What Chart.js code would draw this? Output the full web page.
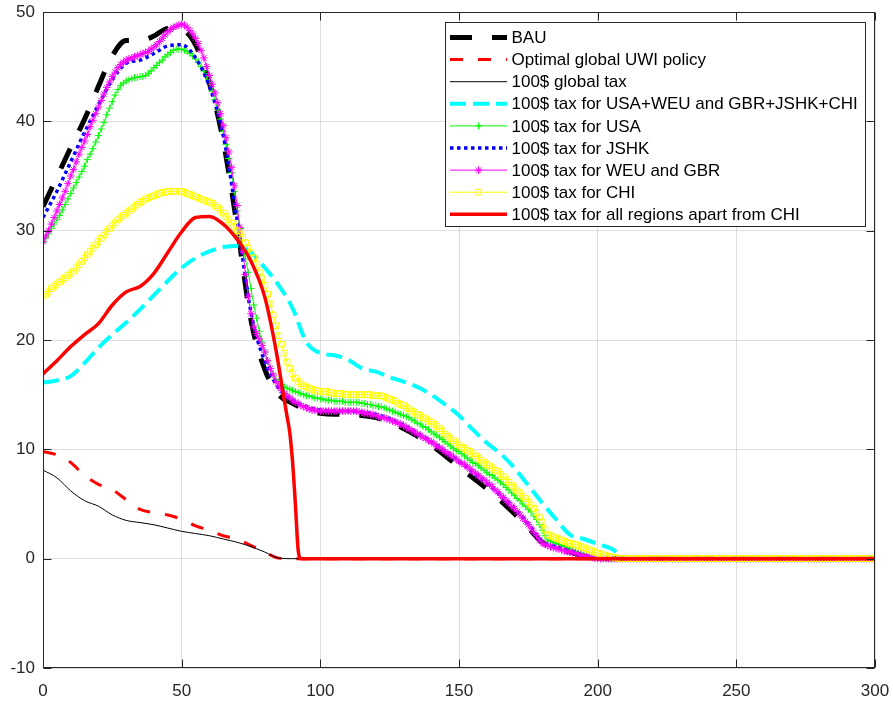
<!DOCTYPE html>
<html>
<head>
<meta charset="utf-8">
<title>Tax scenarios</title>
<script src="https://cdn.jsdelivr.net/npm/chart.js@4.4.1/dist/chart.umd.min.js"></script>
<style>
  html, body { margin: 0; padding: 0; background: #fff; overflow: hidden; }
  canvas { display: block; }
</style>
</head>
<body>
<canvas id="taxChart" width="893" height="702"></canvas>
<script>
// sample grids (years)
function range(start, stop, step) {
    let out = [];
    for (let v = start; v <= stop; v += step) out.push(v);
    return out;
}
const xCoarse = range(0, 300, 5);
const xFine = range(0, 300, 1);

// series on the 5-step grid
const bau = [
    32.2, 34.9, 37.6, 40.2, 43.2, 46.0, 47.4, 47.4, 47.8, 48.5,
    48.4, 47.0, 43.5, 38.2, 30.4, 21.8, 17.3, 15.0, 14.2, 13.6,
    13.3, 13.2, 13.2, 13.1, 12.9, 12.5, 11.9, 11.2, 10.4, 9.4,
    8.4, 7.4, 6.4, 5.3, 4.1, 2.8, 1.5, 1.0, 0.6, 0.25,
    0, 0, 0, 0, 0, 0, 0, 0, 0, 0,
    0, 0, 0, 0, 0, 0, 0, 0, 0, 0,
    0
];
const optimalUwi = [
    9.8, 9.5, 8.8, 7.6, 6.8, 6.3, 5.4, 4.5, 4.2, 4.0,
    3.6, 3.0, 2.6, 2.1, 1.8, 1.2, 0.6, 0.05, 0, 0,
    0, 0, 0, 0, 0, 0, 0, 0, 0, 0,
    0, 0, 0, 0, 0, 0, 0, 0, 0, 0,
    0, 0, 0, 0, 0, 0, 0, 0, 0, 0,
    0, 0, 0, 0, 0, 0, 0, 0, 0, 0,
    0
];
const globalTax = [
    8.1, 7.4, 6.2, 5.3, 4.8, 4.0, 3.5, 3.3, 3.1, 2.8,
    2.5, 2.3, 2.1, 1.8, 1.5, 1.1, 0.6, 0.05, 0, 0,
    0, 0, 0, 0, 0, 0, 0, 0, 0, 0,
    0, 0, 0, 0, 0, 0, 0, 0, 0, 0,
    0, 0, 0, 0, 0, 0, 0, 0, 0, 0,
    0, 0, 0, 0, 0, 0, 0, 0, 0, 0,
    0
];
const taxBloc = [
    16.1, 16.3, 16.7, 17.9, 19.3, 20.5, 21.6, 22.8, 24.1, 25.4,
    26.6, 27.5, 28.1, 28.5, 28.6, 28.0, 26.6, 25.0, 22.9, 19.8,
    18.8, 18.6, 18.2, 17.4, 17.1, 16.6, 16.2, 15.7, 15.0, 14.1,
    13.1, 11.8, 10.6, 9.6, 8.3, 6.7, 5.1, 3.6, 2.2, 1.8,
    1.35, 0.9, 0.1, 0, 0, 0, 0, 0, 0, 0,
    0, 0, 0, 0, 0, 0, 0, 0, 0, 0,
    0
];
const taxJshk = [
    31.2, 33.6, 36.3, 39.0, 41.5, 43.8, 45.3, 45.6, 46.2, 46.9,
    47.0, 45.8, 43.2, 38.7, 31.0, 22.5, 18.0, 15.6, 14.5, 13.9,
    13.6, 13.5, 13.5, 13.4, 13.2, 12.8, 12.2, 11.5, 10.7, 9.8,
    8.9, 7.9, 6.9, 5.8, 4.6, 3.2, 1.6, 1.1, 0.7, 0.3,
    0, 0, 0, 0, 0, 0, 0, 0, 0, 0,
    0, 0, 0, 0, 0, 0, 0, 0, 0, 0,
    0
];

// marker series, one value per year
const taxUsa = [
    28.9, 29.3, 29.7, 30.2, 30.6, 31.0, 31.4, 31.9, 32.4, 32.9,
    33.4, 33.9, 34.4, 34.9, 35.4, 35.9, 36.5, 37.0, 37.5, 38.1,
    38.7, 39.3, 39.9, 40.6, 41.2, 41.8, 42.4, 42.9, 43.3, 43.5,
    43.7, 43.8, 43.9, 44.0, 44.0, 44.1, 44.1, 44.2, 44.4, 44.6,
    44.9, 45.1, 45.4, 45.6, 45.9, 46.1, 46.3, 46.5, 46.6, 46.6,
    46.6, 46.5, 46.4, 46.2, 46.0, 45.7, 45.4, 45.0, 44.6, 44.1,
    43.6, 42.8, 42.0, 41.1, 40.2, 39.1, 37.9, 36.6, 35.3, 33.6,
    31.8, 30.2, 28.6, 27.4, 26.2, 24.7, 23.2, 22.0, 20.8, 19.8,
    18.9, 18.1, 17.4, 16.9, 16.4, 16.1, 15.9, 15.7, 15.6, 15.5,
    15.4, 15.3, 15.2, 15.1, 15.0, 14.9, 14.9, 14.8, 14.7, 14.7,
    14.6, 14.6, 14.5, 14.5, 14.5, 14.4, 14.4, 14.4, 14.4, 14.3,
    14.3, 14.3, 14.3, 14.3, 14.3, 14.2, 14.2, 14.1, 14.1, 14.0,
    14.0, 13.9, 13.9, 13.8, 13.7, 13.6, 13.5, 13.4, 13.3, 13.2,
    13.1, 13.0, 12.9, 12.7, 12.6, 12.4, 12.3, 12.1, 12.0, 11.8,
    11.6, 11.4, 11.3, 11.1, 10.9, 10.7, 10.5, 10.3, 10.1, 9.9,
    9.8, 9.6, 9.4, 9.2, 9.0, 8.8, 8.7, 8.5, 8.3, 8.1,
    7.9, 7.7, 7.6, 7.4, 7.2, 7.0, 6.8, 6.5, 6.3, 6.0,
    5.8, 5.5, 5.3, 5.0, 4.8, 4.5, 4.3, 3.9, 3.6, 3.1,
    2.6, 2.1, 1.7, 1.6, 1.5, 1.4, 1.3, 1.2, 1.1, 1.0,
    0.9, 0.8, 0.7, 0.6, 0.5, 0.4, 0.3, 0.2, 0.15, 0.1,
    0.05, 0, 0, 0, 0, 0, 0, 0, 0, 0,
    0, 0, 0, 0, 0, 0, 0, 0, 0, 0,
    0, 0, 0, 0, 0, 0, 0, 0, 0, 0,
    0, 0, 0, 0, 0, 0, 0, 0, 0, 0,
    0, 0, 0, 0, 0, 0, 0, 0, 0, 0,
    0, 0, 0, 0, 0, 0, 0, 0, 0, 0,
    0, 0, 0, 0, 0, 0, 0, 0, 0, 0,
    0, 0, 0, 0, 0, 0, 0, 0, 0, 0,
    0, 0, 0, 0, 0, 0, 0, 0, 0, 0,
    0, 0, 0, 0, 0, 0, 0, 0, 0, 0,
    0
];
const taxWeuGbr = [
    29.0, 29.5, 30.0, 30.6, 31.2, 31.8, 32.4, 33.0, 33.6, 34.3,
    35.0, 35.6, 36.3, 37.0, 37.6, 38.2, 38.8, 39.5, 40.1, 40.7,
    41.3, 41.9, 42.5, 43.1, 43.6, 44.1, 44.5, 44.9, 45.2, 45.4,
    45.6, 45.7, 45.8, 45.9, 46.0, 46.1, 46.2, 46.3, 46.4, 46.6,
    46.8, 47.0, 47.3, 47.6, 47.9, 48.2, 48.4, 48.6, 48.7, 48.8,
    48.9, 48.8, 48.6, 48.3, 48.0, 47.6, 47.1, 46.5, 45.8, 45.0,
    44.2, 43.4, 42.6, 41.7, 40.7, 39.6, 38.5, 37.2, 35.8, 34.1,
    32.3, 30.3, 28.2, 26.0, 24.0, 22.4, 21.2, 20.6, 20.1, 19.5,
    18.9, 18.1, 17.4, 16.8, 16.2, 15.8, 15.4, 15.1, 14.9, 14.7,
    14.5, 14.3, 14.2, 14.0, 13.9, 13.8, 13.7, 13.6, 13.6, 13.5,
    13.5, 13.5, 13.5, 13.5, 13.5, 13.5, 13.5, 13.5, 13.5, 13.5,
    13.5, 13.5, 13.5, 13.5, 13.4, 13.4, 13.3, 13.3, 13.2, 13.2,
    13.1, 13.0, 12.9, 12.9, 12.8, 12.7, 12.6, 12.5, 12.4, 12.3,
    12.2, 12.0, 11.9, 11.7, 11.6, 11.4, 11.3, 11.1, 11.0, 10.8,
    10.7, 10.5, 10.3, 10.2, 10.0, 9.8, 9.6, 9.5, 9.3, 9.1,
    8.9, 8.7, 8.6, 8.4, 8.2, 8.0, 7.8, 7.6, 7.4, 7.2,
    7.0, 6.8, 6.6, 6.3, 6.1, 5.8, 5.6, 5.3, 5.1, 4.8,
    4.6, 4.3, 4.0, 3.7, 3.4, 3.1, 2.8, 2.4, 2.1, 1.7,
    1.4, 1.3, 1.2, 1.1, 1.0, 0.95, 0.9, 0.8, 0.7, 0.65,
    0.6, 0.55, 0.5, 0.4, 0.3, 0.25, 0.2, 0.15, 0.1, 0.05,
    0, 0, 0, 0, 0, 0, 0, 0, 0, 0,
    0, 0, 0, 0, 0, 0, 0, 0, 0, 0,
    0, 0, 0, 0, 0, 0, 0, 0, 0, 0,
    0, 0, 0, 0, 0, 0, 0, 0, 0, 0,
    0, 0, 0, 0, 0, 0, 0, 0, 0, 0,
    0, 0, 0, 0, 0, 0, 0, 0, 0, 0,
    0, 0, 0, 0, 0, 0, 0, 0, 0, 0,
    0, 0, 0, 0, 0, 0, 0, 0, 0, 0,
    0, 0, 0, 0, 0, 0, 0, 0, 0, 0,
    0, 0, 0, 0, 0, 0, 0, 0, 0, 0,
    0
];
const taxChi = [
    24.0, 24.2, 24.4, 24.7, 24.9, 25.1, 25.3, 25.5, 25.7, 25.9,
    26.1, 26.3, 26.6, 26.9, 27.2, 27.5, 27.8, 28.1, 28.4, 28.7,
    29.0, 29.3, 29.6, 29.9, 30.2, 30.5, 30.7, 31.0, 31.2, 31.4,
    31.6, 31.8, 32.0, 32.2, 32.4, 32.6, 32.7, 32.9, 33.0, 33.1,
    33.2, 33.3, 33.4, 33.5, 33.5, 33.6, 33.6, 33.6, 33.6, 33.6,
    33.6, 33.5, 33.4, 33.3, 33.2, 33.1, 33.0, 32.9, 32.8, 32.7,
    32.6, 32.5, 32.3, 32.1, 31.9, 31.6, 31.3, 31.0, 30.7, 30.4,
    30.0, 29.7, 29.4, 28.9, 28.4, 28.0, 27.5, 26.9, 26.2, 25.6,
    25.0, 24.2, 23.3, 22.3, 21.3, 20.4, 19.6, 18.8, 18.0, 17.4,
    16.9, 16.5, 16.2, 16.0, 15.8, 15.7, 15.6, 15.5, 15.4, 15.35,
    15.3, 15.3, 15.3, 15.2, 15.2, 15.1, 15.1, 15.1, 15.1, 15.0,
    15.0, 15.0, 15.0, 15.0, 15.0, 15.0, 15.0, 15.0, 15.0, 14.9,
    14.9, 14.9, 14.9, 14.8, 14.7, 14.6, 14.5, 14.4, 14.2, 14.1,
    14.0, 13.8, 13.7, 13.5, 13.4, 13.2, 13.1, 12.9, 12.8, 12.6,
    12.5, 12.3, 12.1, 11.9, 11.7, 11.4, 11.2, 11.0, 10.8, 10.6,
    10.4, 10.2, 10.1, 9.9, 9.8, 9.6, 9.4, 9.2, 9.0, 8.8,
    8.6, 8.5, 8.3, 8.1, 8.0, 7.7, 7.5, 7.2, 7.0, 6.7,
    6.5, 6.2, 6.0, 5.7, 5.5, 5.2, 4.9, 4.6, 4.2, 3.8,
    3.3, 2.7, 2.2, 2.1, 2.0, 1.9, 1.8, 1.7, 1.6, 1.5,
    1.4, 1.35, 1.3, 1.2, 1.1, 1.0, 0.9, 0.8, 0.7, 0.6,
    0.5, 0.42, 0.35, 0.28, 0.2, 0.15, 0.1, 0.05, 0, 0,
    0, 0, 0, 0, 0, 0, 0, 0, 0, 0,
    0, 0, 0, 0, 0, 0, 0, 0, 0, 0,
    0, 0, 0, 0, 0, 0, 0, 0, 0, 0,
    0, 0, 0, 0, 0, 0, 0, 0, 0, 0,
    0, 0, 0, 0, 0, 0, 0, 0, 0, 0,
    0, 0, 0, 0, 0, 0, 0, 0, 0, 0,
    0, 0, 0, 0, 0, 0, 0, 0, 0, 0,
    0, 0, 0, 0, 0, 0, 0, 0, 0, 0,
    0, 0, 0, 0, 0, 0, 0, 0, 0, 0,
    0
];

// all regions except CHI: own knots around the sharp drop
const taxNoChiX = [0, 5, 10, 15, 20, 25, 30, 35, 40, 45, 50, 55, 60, 65, 70, 75, 80, 84, 87, 88, 89, 90, 91, 92, 93, 300];
const taxNoChi = [16.9, 18.1, 19.4, 20.5, 21.5, 23.2, 24.4, 24.9, 26.1, 28.0, 29.9, 31.2, 31.3, 30.6, 29.2, 27.2, 23.9, 19.1, 14.5, 13.0, 11.5, 8.8, 5.0, 0.8, 0, 0];

const xTicks = [0, 50, 100, 150, 200, 250, 300];
const yTicks = [-10, 0, 10, 20, 30, 40, 50];

function toPoints(xs, ys) {
    return xs.map((x, i) => ({ x: x, y: ys[i] }));
}

const FONT = '"Liberation Sans", Arial, Helvetica, sans-serif';
const AXIS_COLOR = '#262626';

// box, inward tick marks and the legend, MATLAB style
const axesFrame = {
    id: 'axesFrame',
    afterDraw(chart) {
        const ctx = chart.ctx;
        const a = chart.chartArea;
        const xs = chart.scales.x, ys = chart.scales.y;
        const L = Math.round(a.left) + 0.5, R = Math.round(a.right) - 0.5;
        const T = Math.round(a.top) + 0.5, B = Math.round(a.bottom) - 0.5;
        ctx.save();
        ctx.strokeStyle = AXIS_COLOR;
        ctx.lineWidth = 1;
        ctx.setLineDash([]);
        ctx.beginPath();
        xTicks.forEach(v => {
            const px = Math.round(xs.getPixelForValue(v)) + 0.5;
            ctx.moveTo(px, B); ctx.lineTo(px, B - 8);
            ctx.moveTo(px, T); ctx.lineTo(px, T + 8);
        });
        yTicks.forEach(v => {
            const py = Math.round(ys.getPixelForValue(v)) + 0.5;
            ctx.moveTo(L, py); ctx.lineTo(L + 8, py);
            ctx.moveTo(R, py); ctx.lineTo(R - 8, py);
        });
        ctx.stroke();
        ctx.strokeRect(L, T, R - L, B - T);

        // legend
        const box = { left: 445.5, top: 22.5, right: 865.5, bottom: 226.5 };
        ctx.fillStyle = '#fff';
        ctx.fillRect(box.left, box.top, box.right - box.left, box.bottom - box.top);
        ctx.strokeRect(box.left, box.top, box.right - box.left, box.bottom - box.top);
        ctx.font = '17px ' + FONT;
        ctx.textBaseline = 'middle';
        ctx.textAlign = 'left';
        chart.data.datasets.forEach((ds, i) => {
            const y = 37.5 + i * 22.1;
            ctx.save();
            ctx.strokeStyle = ds.borderColor;
            ctx.lineWidth = ds.borderWidth;
            ctx.setLineDash(ds.borderDash || []);
            ctx.beginPath();
            ctx.moveTo(450, y);
            ctx.lineTo(507, y);
            ctx.stroke();
            ctx.setLineDash([]);
            if (ds.pointRadius > 0) {
                drawMarker(ctx, ds.pointStyle, 478.5, y, ds.pointRadius, ds.borderColor);
            }
            ctx.restore();
            ctx.fillStyle = '#000';
            ctx.fillText(ds.label, 511.5, y + 1);
        });
        ctx.restore();
    }
};

function drawMarker(ctx, style, x, y, r, color) {
    ctx.strokeStyle = color;
    ctx.lineWidth = 1;
    ctx.beginPath();
    if (style === 'cross' || style === 'star') {
        ctx.moveTo(x - r, y); ctx.lineTo(x + r, y);
        ctx.moveTo(x, y - r); ctx.lineTo(x, y + r);
    }
    if (style === 'star') {
        const d = r * Math.SQRT1_2;
        ctx.moveTo(x - d, y - d); ctx.lineTo(x + d, y + d);
        ctx.moveTo(x - d, y + d); ctx.lineTo(x + d, y - d);
    }
    if (style === 'rect') {
        const s = r * Math.SQRT1_2;
        ctx.rect(x - s, y - s, 2 * s, 2 * s);
    }
    ctx.stroke();
}

const lineDefaults = { fill: false, pointRadius: 0, pointHoverRadius: 0 };

const datasets = [
    Object.assign({}, lineDefaults, {
        label: 'BAU',
        data: toPoints(xCoarse, bau),
        borderColor: '#000000', borderWidth: 5, borderDash: [22, 20],
        cubicInterpolationMode: 'monotone'
    }),
    Object.assign({}, lineDefaults, {
        label: 'Optimal global UWI policy',
        data: toPoints(xCoarse, optimalUwi),
        borderColor: '#ff0000', borderWidth: 3, borderDash: [13, 15],
        cubicInterpolationMode: 'monotone'
    }),
    Object.assign({}, lineDefaults, {
        label: '100$ global tax',
        data: toPoints(xCoarse, globalTax),
        borderColor: '#000000', borderWidth: 1,
        cubicInterpolationMode: 'monotone'
    }),
    Object.assign({}, lineDefaults, {
        label: '100$ tax for USA+WEU and GBR+JSHK+CHI',
        data: toPoints(xCoarse, taxBloc),
        borderColor: '#00ffff', borderWidth: 4, borderDash: [16, 7],
        cubicInterpolationMode: 'monotone'
    }),
    Object.assign({}, lineDefaults, {
        label: '100$ tax for USA',
        data: toPoints(xFine, taxUsa),
        borderColor: '#00ff00', borderWidth: 1,
        pointStyle: 'cross', pointRadius: 3.5, pointBorderWidth: 1,
        pointBorderColor: '#00ff00'
    }),
    Object.assign({}, lineDefaults, {
        label: '100$ tax for JSHK',
        data: toPoints(xCoarse, taxJshk),
        borderColor: '#0000ff', borderWidth: 3.5, borderDash: [3.5, 3.5],
        cubicInterpolationMode: 'monotone'
    }),
    Object.assign({}, lineDefaults, {
        label: '100$ tax for WEU and GBR',
        data: toPoints(xFine, taxWeuGbr),
        borderColor: '#ff00ff', borderWidth: 1,
        pointStyle: 'star', pointRadius: 3.8, pointBorderWidth: 1,
        pointBorderColor: '#ff00ff'
    }),
    Object.assign({}, lineDefaults, {
        label: '100$ tax for CHI',
        data: toPoints(xFine, taxChi),
        borderColor: '#ffff00', borderWidth: 1,
        pointStyle: 'rect', pointRadius: 4, pointBorderWidth: 1,
        pointBorderColor: '#ffff00', pointBackgroundColor: 'rgba(0,0,0,0)'
    }),
    Object.assign({}, lineDefaults, {
        label: '100$ tax for all regions apart from CHI',
        data: toPoints(taxNoChiX, taxNoChi),
        borderColor: '#ff0000', borderWidth: 3.5,
        cubicInterpolationMode: 'monotone'
    })
];
// later series are painted over earlier ones
datasets.forEach((ds, i) => { ds.order = datasets.length - i; });

const ctx = document.getElementById('taxChart').getContext('2d');
const chart = new Chart(ctx, {
    type: 'line',
    data: { datasets: datasets },
    options: {
        responsive: false,
        devicePixelRatio: 1,
        animation: false,
        events: [],
        layout: { padding: { top: 12, right: 18, left: 0, bottom: 0 } },
        plugins: {
            legend: { display: false },
            tooltip: { enabled: false }
        },
        scales: {
            x: {
                type: 'linear',
                min: 0, max: 300,
                afterBuildTicks: s => { s.ticks = xTicks.map(v => ({ value: v })); },
                afterFit: s => { s.height = 34; s.paddingLeft = 0; s.paddingRight = 0; },
                ticks: { color: AXIS_COLOR, font: { family: FONT, size: 17 }, padding: 13, maxRotation: 0 },
                grid: { color: 'rgba(38,38,38,0.15)', drawTicks: false },
                border: { display: false }
            },
            y: {
                min: -10, max: 50,
                afterBuildTicks: s => { s.ticks = yTicks.map(v => ({ value: v })); },
                afterFit: s => { s.width = 43; s.paddingTop = 0; s.paddingBottom = 0; },
                ticks: { color: AXIS_COLOR, font: { family: FONT, size: 17 }, padding: 8 },
                grid: { color: 'rgba(38,38,38,0.15)', drawTicks: false },
                border: { display: false }
            }
        }
    },
    plugins: [axesFrame]
});
</script>
</body>
</html>
